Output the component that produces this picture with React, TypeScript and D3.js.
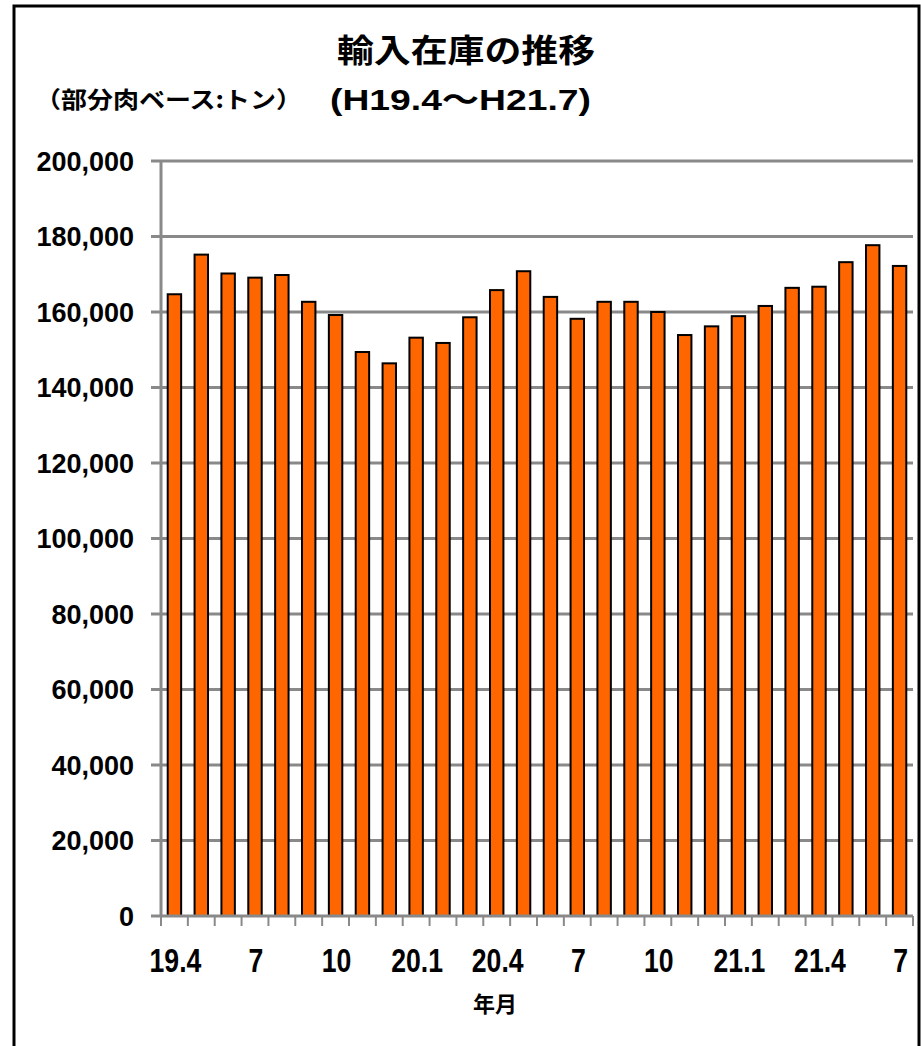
import React, { useEffect, useRef } from "react";
import * as d3 from "d3";

// months H19.4 .. H21.7
const months = [
  "19.4", "19.5", "19.6", "19.7", "19.8", "19.9", "19.10", "19.11", "19.12",
  "20.1", "20.2", "20.3", "20.4", "20.5", "20.6", "20.7", "20.8", "20.9", "20.10", "20.11", "20.12",
  "21.1", "21.2", "21.3", "21.4", "21.5", "21.6", "21.7",
];

// import stock (tons)
const stock = [
  164700, 175200, 170200, 169100, 169800, 162700, 159200, 149400, 146400,
  153200, 151800, 158600, 165800, 170800, 164000, 158200, 162700, 162700, 160000, 153900, 156200,
  158900, 161600, 166400, 166700, 173200, 177700, 172200,
];

// labels shown under the axis (every third month)
const tickLabels: Record<string, string> = {
  "19.4": "19.4", "19.7": "7", "19.10": "10", "20.1": "20.1", "20.4": "20.4",
  "20.7": "7", "20.10": "10", "21.1": "21.1", "21.4": "21.4", "21.7": "7",
};

const yTicks = [0, 20000, 40000, 60000, 80000, 100000, 120000, 140000, 160000, 180000, 200000];

const W = 921;
const H = 1046;
const margin = { left: 161, right: 8, top: 161, bottom: 130 };

const Chart: React.FC = () => {
  const svgRef = useRef<SVGSVGElement | null>(null);

  useEffect(() => {
    if (!svgRef.current) return;
    const svg = d3.select(svgRef.current);
    svg.selectAll("*").remove();

    const x = d3.scaleBand<string>()
      .domain(months)
      .range([margin.left, W - margin.right])
      .paddingInner(0.5)
      .paddingOuter(0.25);

    const y = d3.scaleLinear()
      .domain([0, 200000])
      .range([H - margin.bottom, margin.top]);

    const sans = "'Liberation Sans', Arial, sans-serif";
    const jp = "'Noto Sans CJK JP', sans-serif";

    // outer frame
    svg.append("rect")
      .attr("x", 14).attr("y", 6)
      .attr("width", 905).attr("height", H + 10)
      .attr("fill", "#fff")
      .attr("stroke", "#000")
      .attr("stroke-width", 3);

    // gridlines + left ticks
    svg.append("g")
      .selectAll("line")
      .data(yTicks.filter((d) => d > 0))
      .enter()
      .append("line")
      .attr("x1", margin.left - 10)
      .attr("x2", W - margin.right)
      .attr("y1", (d) => y(d))
      .attr("y2", (d) => y(d))
      .attr("stroke", "#898989")
      .attr("stroke-width", 3);

    // y labels
    svg.append("g")
      .selectAll("text")
      .data(yTicks)
      .enter()
      .append("text")
      .attr("x", 134)
      .attr("y", (d) => y(d))
      .attr("dy", "0.36em")
      .attr("text-anchor", "end")
      .style("font-family", sans)
      .style("font-weight", "bold")
      .style("font-size", "27px")
      .text((d) => d3.format(",")(d));

    // bars
    svg.append("g")
      .selectAll("rect")
      .data(stock)
      .enter()
      .append("rect")
      .attr("x", (d, i) => x(months[i])!)
      .attr("y", (d) => y(d))
      .attr("width", x.bandwidth())
      .attr("height", (d) => y(0) - y(d))
      .attr("fill", "#FF6600")
      .attr("stroke", "#000")
      .attr("stroke-width", 2);

    // y axis line
    svg.append("line")
      .attr("x1", margin.left).attr("x2", margin.left)
      .attr("y1", y(200000)).attr("y2", y(0))
      .attr("stroke", "#898989")
      .attr("stroke-width", 3);

    // x axis line and ticks at band boundaries
    svg.append("line")
      .attr("x1", margin.left - 10).attr("x2", W - margin.right)
      .attr("y1", y(0)).attr("y2", y(0))
      .attr("stroke", "#898989")
      .attr("stroke-width", 3);

    const step = x.step();
    const bounds = d3.range(months.length + 1).map((i) => margin.left + i * step);
    svg.append("g")
      .selectAll("line")
      .data(bounds)
      .enter()
      .append("line")
      .attr("x1", (d) => d).attr("x2", (d) => d)
      .attr("y1", y(0)).attr("y2", y(0) + 10)
      .attr("stroke", "#898989")
      .attr("stroke-width", 2);

    // x labels
    svg.append("g")
      .selectAll("text")
      .data(months.filter((m) => tickLabels[m]))
      .enter()
      .append("text")
      .attr("transform", (d) => `translate(${x(d)! + x.bandwidth() / 2 + 1},972) scale(0.95,1.2)`)
      .attr("text-anchor", "middle")
      .style("font-family", sans)
      .style("font-weight", "bold")
      .style("font-size", "28px")
      .text((d) => tickLabels[d]);

    // axis title
    svg.append("text")
      .attr("x", 495).attr("y", 1012)
      .attr("text-anchor", "middle")
      .style("font-family", jp)
      .style("font-weight", "bold")
      .style("font-size", "22px")
      .text("年月");

    // chart titles
    svg.append("text")
      .attr("x", 337).attr("y", 62)
      .attr("textLength", 258)
      .attr("lengthAdjust", "spacingAndGlyphs")
      .style("font-family", jp)
      .style("font-weight", "bold")
      .style("font-size", "32px")
      .text("輸入在庫の推移");

    const sub = svg.append("text")
      .attr("x", 330).attr("y", 110)
      .attr("textLength", 261)
      .attr("lengthAdjust", "spacingAndGlyphs")
      .style("font-family", sans)
      .style("font-weight", "bold")
      .style("font-size", "30px");
    sub.append("tspan").text("(H19.4");
    sub.append("tspan").style("font-family", jp).text("～");
    sub.append("tspan").text("H21.7)");

    svg.append("text")
      .attr("x", 35).attr("y", 108)
      .attr("textLength", 267)
      .attr("lengthAdjust", "spacingAndGlyphs")
      .style("font-family", jp)
      .style("font-weight", "bold")
      .style("font-size", "23px")
      .text("（部分肉ベース:トン）");
  }, []);

  return <svg ref={svgRef} width={W} height={H} style={{ display: "block" }} />;
};

export default function App() {
  return (
    <div style={{ position: "absolute", left: 0, top: 0, background: "#fff" }}>
      <Chart />
    </div>
  );
}
